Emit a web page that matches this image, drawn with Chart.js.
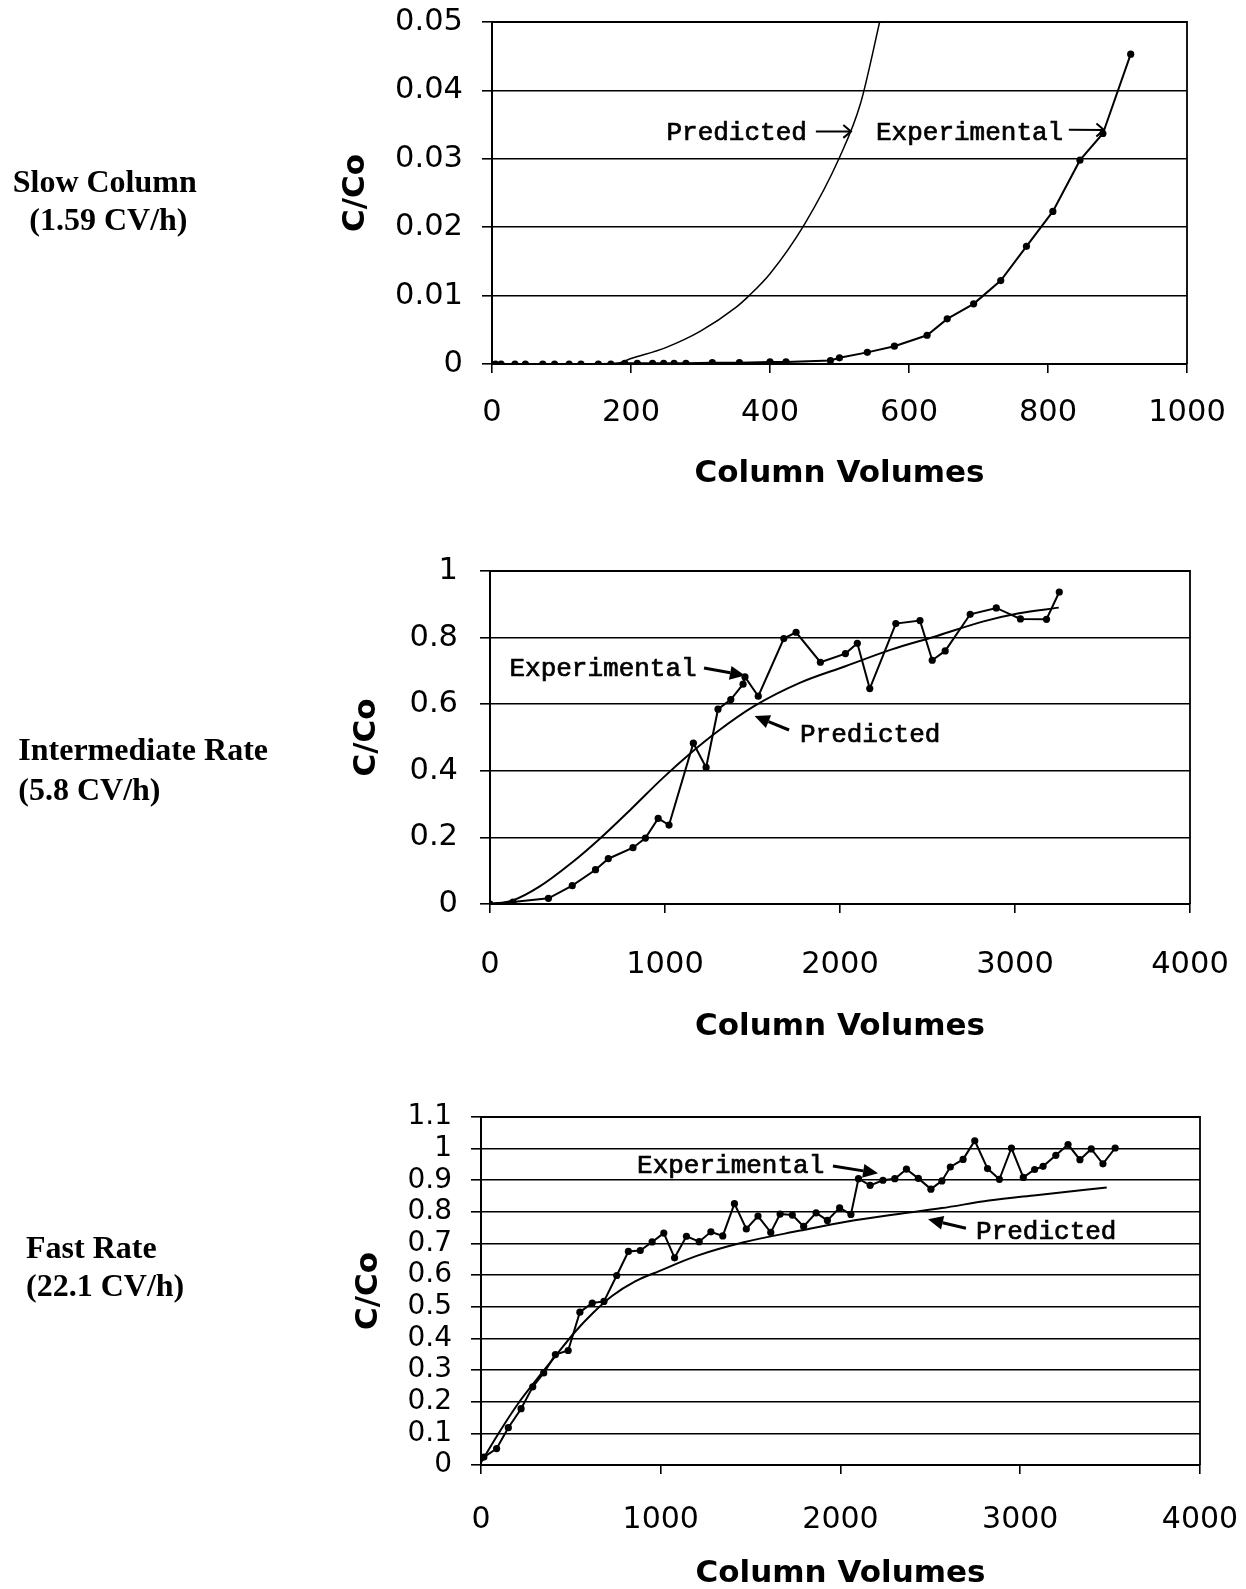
<!DOCTYPE html>
<html><head><meta charset="utf-8">
<script src="https://cdn.jsdelivr.net/npm/chart.js@4.4.1/dist/chart.umd.min.js"></script>
<style>
html,body{margin:0;padding:0;background:#fff;}
body{width:1246px;height:1589px;position:relative;overflow:hidden;}
canvas{position:absolute;left:0;}
svg{position:absolute;left:0;top:0;pointer-events:none;}
</style></head><body>
<canvas id="c1" width="1300" height="516" style="top:-16px"></canvas>
<canvas id="c2" width="1300" height="550" style="top:510px"></canvas>
<canvas id="c3" width="1300" height="533" style="top:1060px"></canvas>
<svg width="1246" height="1589" font-family="Liberation Serif" font-weight="bold" font-size="32" fill="#000">
  <text x="12.7" y="191.7">Slow Column</text>
  <text x="29.3" y="230">(1.59 CV/h)</text>
  <text x="18.3" y="760">Intermediate Rate</text>
  <text x="18.3" y="800">(5.8 CV/h)</text>
  <text x="26" y="1258.3">Fast Rate</text>
  <text x="26" y="1296">(22.1 CV/h)</text>
</svg>
<script>
// ---------- Slow column (1.59 CV/h) ----------
const slowCV   = [5, 13, 33, 48, 73, 90, 111, 128, 153, 171, 191, 209, 231, 247, 262, 279, 317, 356, 400, 423, 487, 500, 540, 579, 626, 655, 693, 732, 769, 807, 846, 879, 919];
const slowExp  = [0, 0, 0, 0, 0, 0, 0, 0, 0, 0, 0.0001, 0.0001, 0.0001, 0.0001, 0.0001, 0.0001, 0.0002, 0.0002, 0.0003, 0.0003, 0.0005, 0.0009, 0.0017, 0.0026, 0.0042, 0.0066, 0.0088, 0.0122, 0.0172, 0.0223, 0.0298, 0.0337, 0.0453];
const slowPredCV = [0, 100, 180, 200, 250, 300, 350, 370, 400, 450, 500, 530, 560];
const slowPred   = [0, 0, 0.0001, 0.0008, 0.0024, 0.0048, 0.0082, 0.0100, 0.0132, 0.0205, 0.0302, 0.0380, 0.0510];
const slowXTicks = [0, 200, 400, 600, 800, 1000];
const slowXLabels = ['0', '200', '400', '600', '800', '1000'];
const slowYTicks = [0, 0.01, 0.02, 0.03, 0.04, 0.05];
const slowYLabels = ['0', '0.01', '0.02', '0.03', '0.04', '0.05'];

// ---------- Intermediate rate (5.8 CV/h) ----------
const intCV  = [0, 131, 334, 470, 603, 676, 817, 888, 961, 1023, 1162, 1235, 1303, 1376, 1446, 1457, 1533, 1679, 1749, 1888, 2031, 2099, 2170, 2319, 2457, 2527, 2601, 2744, 2893, 3031, 3180, 3253];
const intExp = [0, 0.006, 0.017, 0.055, 0.103, 0.136, 0.169, 0.198, 0.257, 0.237, 0.483, 0.41, 0.585, 0.614, 0.66, 0.682, 0.624, 0.797, 0.816, 0.726, 0.752, 0.783, 0.647, 0.842, 0.851, 0.732, 0.760, 0.870, 0.889, 0.856, 0.855, 0.937];
const intPredCV = [0, 131, 282, 465, 621, 804, 987, 1144, 1300, 1509, 1770, 2031, 2292, 2554, 2815, 3023, 3250];
const intPred   = [0, 0.011, 0.052, 0.123, 0.193, 0.284, 0.378, 0.452, 0.518, 0.594, 0.664, 0.714, 0.764, 0.805, 0.848, 0.873, 0.89];
const intXTicks = [0, 1000, 2000, 3000, 4000];
const intXLabels = ['0', '1000', '2000', '3000', '4000'];
const intYTicks = [0, 0.2, 0.4, 0.6, 0.8, 1];
const intYLabels = ['0', '0.2', '0.4', '0.6', '0.8', '1'];

// ---------- Fast rate (22.1 CV/h) ----------
const fastCV  = [16, 87, 152, 223, 288, 349, 414, 485, 550, 619, 684, 755, 820, 886, 952, 1017, 1077, 1143, 1214, 1279, 1345, 1410, 1476, 1541, 1612, 1664, 1732, 1795, 1864, 1927, 1995, 2058, 2100, 2165, 2236, 2302, 2367, 2433, 2503, 2564, 2611, 2682, 2747, 2818, 2884, 2951, 3017, 3080, 3127, 3198, 3266, 3332, 3395, 3460, 3528];
const fastExp = [0.025, 0.052, 0.118, 0.178, 0.247, 0.291, 0.349, 0.362, 0.483, 0.512, 0.517, 0.599, 0.675, 0.678, 0.705, 0.733, 0.655, 0.723, 0.706, 0.737, 0.724, 0.826, 0.746, 0.787, 0.735, 0.793, 0.790, 0.754, 0.797, 0.773, 0.813, 0.792, 0.905, 0.884, 0.900, 0.905, 0.935, 0.906, 0.872, 0.898, 0.942, 0.966, 1.025, 0.937, 0.903, 1.002, 0.909, 0.934, 0.944, 0.979, 1.013, 0.965, 0.999, 0.952, 1.002];
const fastPredCV = [0, 100, 204, 309, 414, 519, 624, 729, 860, 991, 1200, 1462, 1777, 2039, 2301, 2564, 2826, 3088, 3481];
const fastPred   = [0.008, 0.102, 0.192, 0.270, 0.344, 0.418, 0.481, 0.534, 0.581, 0.613, 0.661, 0.704, 0.741, 0.770, 0.792, 0.812, 0.836, 0.853, 0.877];
const fastXTicks = [0, 1000, 2000, 3000, 4000];
const fastXLabels = ['0', '1000', '2000', '3000', '4000'];
const fastYTicks = [0, 0.1, 0.2, 0.3, 0.4, 0.5, 0.6, 0.7, 0.8, 0.9, 1, 1.1];
const fastYLabels = ['0', '0.1', '0.2', '0.3', '0.4', '0.5', '0.6', '0.7', '0.8', '0.9', '1', '1.1'];

const toXY = (xs, ys) => xs.map((x, i) => ({x: x, y: ys[i]}));

function drawArrow(ctx, x1, y1, x2, y2, style) {
  const ang = Math.atan2(y2 - y1, x2 - x1);
  ctx.save();
  ctx.strokeStyle = '#000'; ctx.fillStyle = '#000';
  if (style === 'open') {
    ctx.lineWidth = 2;
    ctx.beginPath(); ctx.moveTo(x1, y1); ctx.lineTo(x2, y2); ctx.stroke();
    const L = 10, a = 0.7;
    ctx.beginPath();
    ctx.moveTo(x2 - L * Math.cos(ang - a), y2 - L * Math.sin(ang - a));
    ctx.lineTo(x2, y2);
    ctx.lineTo(x2 - L * Math.cos(ang + a), y2 - L * Math.sin(ang + a));
    ctx.stroke();
  } else {
    const L = 15, W = 7;
    const bx = x2 - L * Math.cos(ang), by = y2 - L * Math.sin(ang);
    ctx.lineWidth = 3;
    ctx.beginPath(); ctx.moveTo(x1, y1); ctx.lineTo(bx, by); ctx.stroke();
    ctx.beginPath();
    ctx.moveTo(x2, y2);
    ctx.lineTo(bx + W * Math.sin(ang), by - W * Math.cos(ang));
    ctx.lineTo(bx - W * Math.sin(ang), by + W * Math.cos(ang));
    ctx.closePath(); ctx.fill();
  }
  ctx.restore();
}

function notesPlugin(labels, arrows, arrowStyle) {
  return {
    id: 'notes',
    afterDatasetsDraw(chart) {
      const {ctx, chartArea: a, scales: {x, y}} = chart;
      ctx.save();
      ctx.strokeStyle = '#000'; ctx.lineWidth = 1.8;
      ctx.beginPath(); ctx.moveTo(a.left, a.top); ctx.lineTo(a.right, a.top); ctx.lineTo(a.right, a.bottom); ctx.stroke();
      ctx.fillStyle = '#000';
      ctx.font = '26px "Liberation Mono"';
      ctx.textBaseline = 'middle'; ctx.textAlign = 'left';
      ctx.lineWidth = 0.7;
      labels.forEach(l => {
        const px = x.getPixelForValue(l.x), py = y.getPixelForValue(l.y);
        ctx.fillText(l.text, px, py);
        ctx.strokeText(l.text, px, py);
      });
      arrows.forEach(r => drawArrow(ctx, x.getPixelForValue(r.x1), y.getPixelForValue(r.y1), x.getPixelForValue(r.x2), y.getPixelForValue(r.y2), arrowStyle));
      ctx.restore();
    }
  };
}

function makeChart(id, g) {
  const sans = 'DejaVu Sans';
  return new Chart(document.getElementById(id), {
    type: 'line',
    data: {
      datasets: [
        {label: 'Predicted', data: toXY(g.predX, g.predY), borderColor: '#000', borderWidth: g.predW, pointRadius: 0, cubicInterpolationMode: 'monotone', fill: false},
        {label: 'Experimental', data: toXY(g.expX, g.expY), borderColor: '#000', backgroundColor: '#000', borderWidth: 2, pointRadius: 3.6, pointBackgroundColor: '#000', pointBorderColor: '#000', pointBorderWidth: 0, tension: 0, fill: false}
      ]
    },
    options: {
      responsive: false, animation: false, devicePixelRatio: 1,
      layout: {padding: {left: 0, top: g.top, right: g.right, bottom: g.bottom}},
      plugins: {legend: {display: false}, tooltip: {enabled: false}},
      scales: {
        x: {
          type: 'linear', min: 0, max: g.xTicks[g.xTicks.length - 1],
          afterBuildTicks: s => { s.ticks = g.xTicks.map(v => ({value: v})); },
          afterFit: s => { s.height = g.xH; },
          grid: {drawOnChartArea: false, drawTicks: true, tickLength: 9, color: '#000', lineWidth: 1.6},
          border: {display: true, color: '#000', width: 2},
          ticks: {color: '#000', font: {family: sans, size: g.xFont}, padding: g.xTickPad, maxRotation: 0, autoSkip: false,
                  callback: (v, i) => g.xLabels[i]},
          title: {display: true, text: 'Column Volumes', color: '#000', font: {family: sans, size: 31, weight: 'bold'}, padding: {top: 0, bottom: g.xTitlePad}}
        },
        y: {
          type: 'linear', min: 0, max: g.yTicks[g.yTicks.length - 1],
          afterBuildTicks: s => { s.ticks = g.yTicks.map(v => ({value: v})); },
          afterFit: s => { s.width = g.yW; },
          grid: {color: '#000', lineWidth: 1.6, drawTicks: true, tickLength: 10},
          border: {display: true, color: '#000', width: 2},
          ticks: {color: '#000', font: {family: sans, size: g.yFont}, padding: g.yTickPad, autoSkip: false,
                  callback: (v, i) => g.yLabels[i]},
          title: {display: true, text: 'C/Co', color: '#000', font: {family: sans, size: 31, weight: 'bold'}, padding: {top: g.yTitlePad, bottom: 0}}
        }
      }
    },
    plugins: [notesPlugin(g.labels, g.arrows, g.arrowStyle)]
  });
}

makeChart('c1', {
  predX: slowPredCV, predY: slowPred, expX: slowCV, expY: slowExp, predW: 1.5,
  xTicks: slowXTicks, xLabels: slowXLabels, yTicks: slowYTicks, yLabels: slowYLabels,
  top: 38, right: 113, bottom: 6, xH: 130, yW: 492,
  xFont: 30.5, yFont: 30.5, xTickPad: 22, xTitlePad: 1.4, yTickPad: 19, yTitlePad: 337.4,
  labels: [{text: 'Predicted', x: 251, y: 0.0337}, {text: 'Experimental', x: 552.5, y: 0.0337}],
  arrows: [{x1: 466, y1: 0.034, x2: 516.5, y2: 0.034}, {x1: 830, y1: 0.03425, x2: 880.6, y2: 0.0342}],
  arrowStyle: 'open'
});

makeChart('c2', {
  predX: intPredCV, predY: intPred, expX: intCV, expY: intExp, predW: 2,
  xTicks: intXTicks, xLabels: intXLabels, yTicks: intYTicks, yLabels: intYLabels,
  top: 61, right: 110, bottom: 6, xH: 150, yW: 490,
  xFont: 30.5, yFont: 30.5, xTickPad: 33.7, xTitlePad: 8.4, yTickPad: 22, yTitlePad: 348.4,
  labels: [{text: 'Experimental', x: 111, y: 0.704}, {text: 'Predicted', x: 1771, y: 0.506}],
  arrows: [{x1: 1223, y1: 0.7087, x2: 1457, y2: 0.6862}, {x1: 1709, y1: 0.5225, x2: 1512, y2: 0.5646}],
  arrowStyle: 'filled'
});

makeChart('c3', {
  predX: fastPredCV, predY: fastPred, expX: fastCV, expY: fastExp, predW: 2,
  xTicks: fastXTicks, xLabels: fastXLabels, yTicks: fastYTicks, yLabels: fastYLabels,
  top: 57, right: 100, bottom: 0, xH: 128, yW: 481,
  xFont: 30, yFont: 28, xTickPad: 28, xTitlePad: 0.4, yTickPad: 19, yTitlePad: 350.4,
  labels: [{text: 'Experimental', x: 868, y: 0.9435}, {text: 'Predicted', x: 2754, y: 0.7375}],
  arrows: [{x1: 1958, y1: 0.9451, x2: 2209, y2: 0.9221}, {x1: 2698, y1: 0.7482, x2: 2487, y2: 0.7767}],
  arrowStyle: 'filled'
});
</script>
</body></html>
